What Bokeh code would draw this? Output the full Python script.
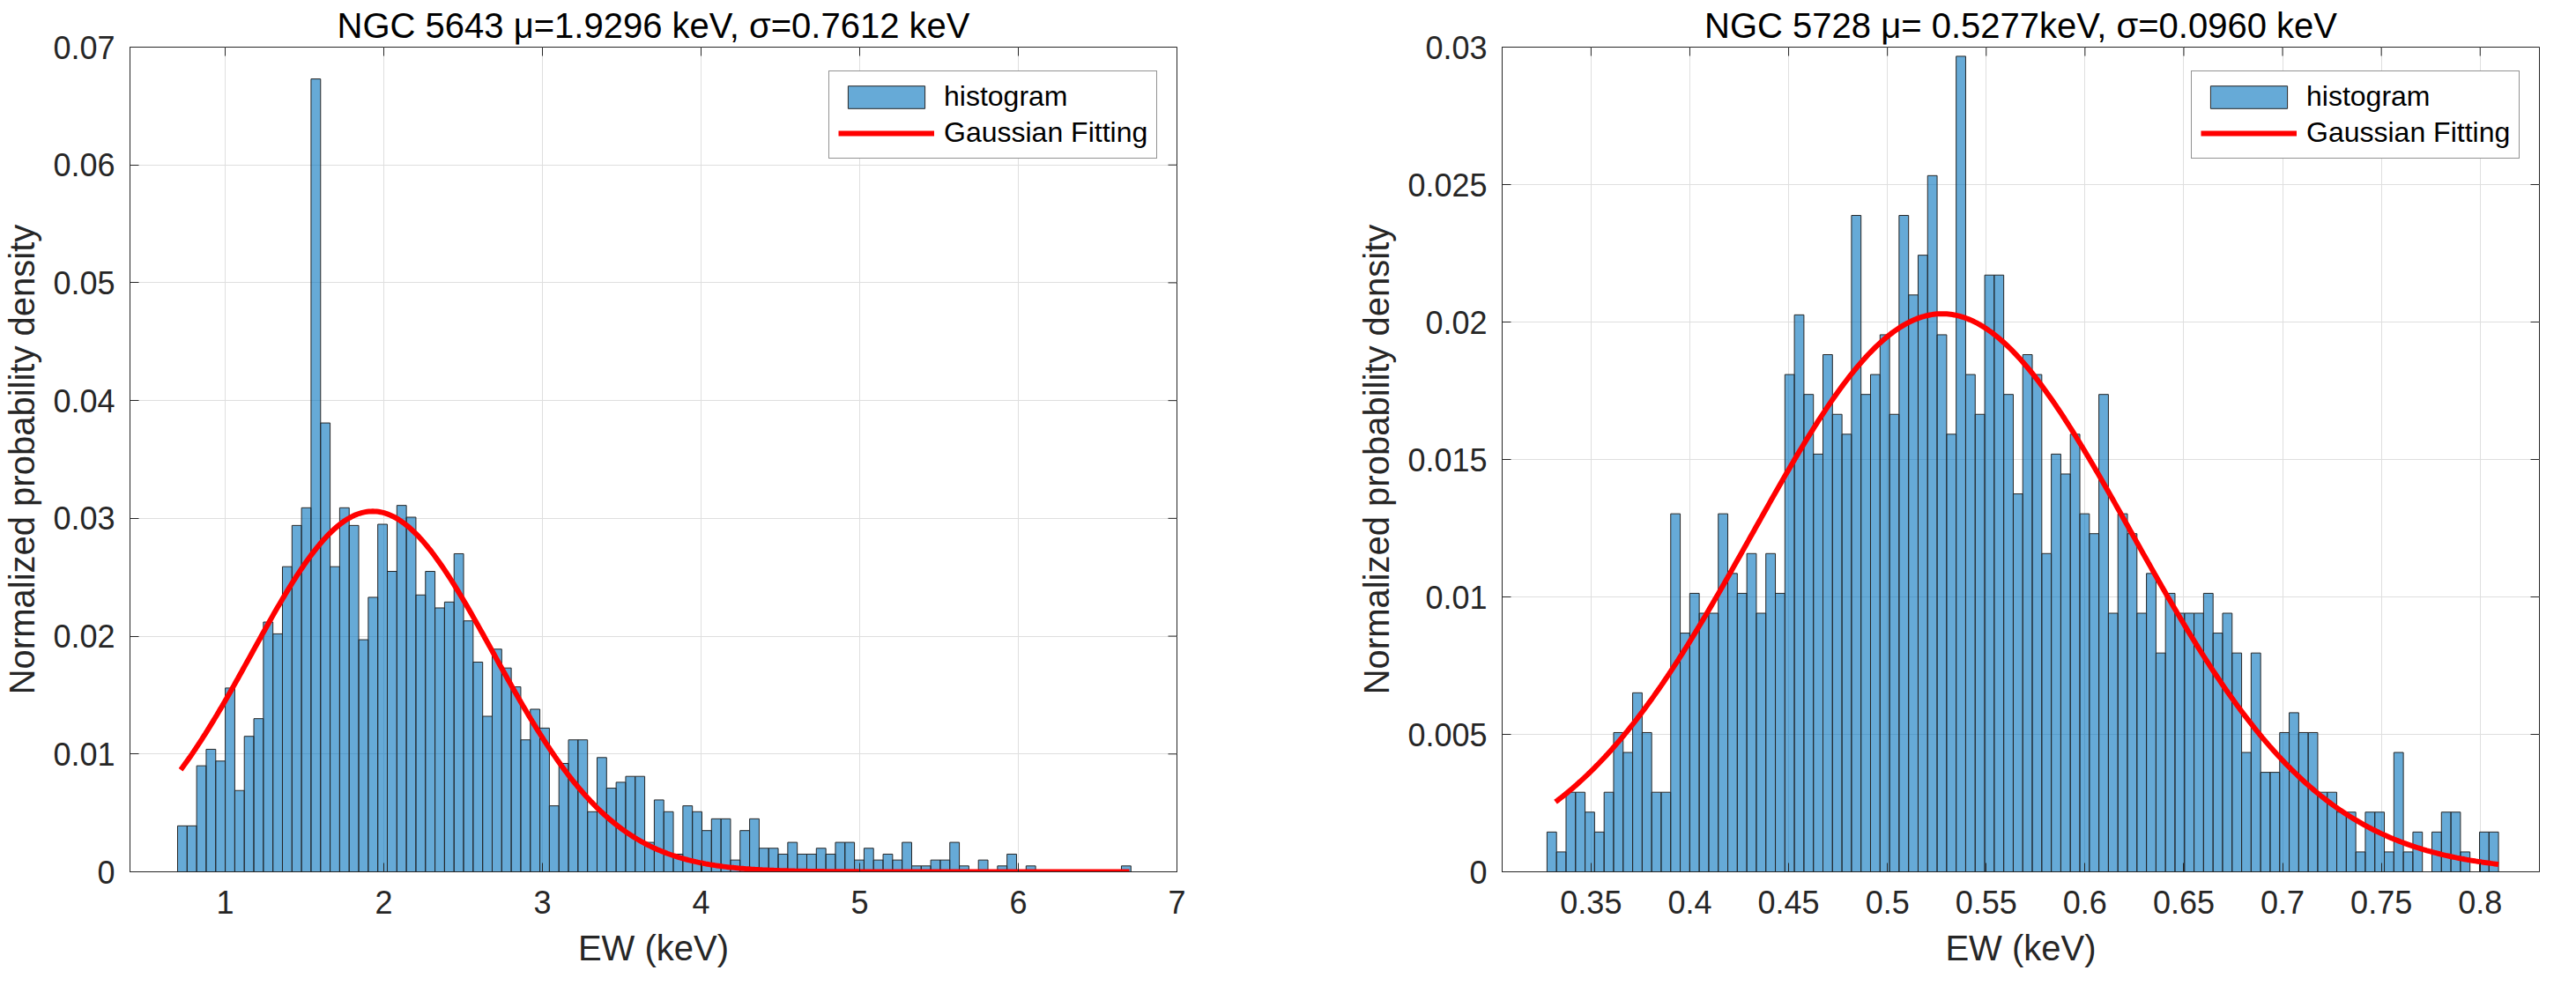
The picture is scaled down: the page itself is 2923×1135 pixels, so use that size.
import numpy as np
from bokeh.plotting import figure
from bokeh.models import FixedTicker, Range1d, Legend, LegendItem, CustomJSTickFormatter
from bokeh.layouts import row
from bokeh.embed import file_html
from bokeh.resources import INLINE

FONT = "Liberation Sans"

# ---------------- data: left panel (NGC 5643) ----------------
left_title = "NGC 5643 \u03bc=1.9296 keV, \u03c3=0.7612 keV"
left_bin_min, left_bin_max = 0.70, 6.71
left_density = [
    0.0039, 0.0039, 0.0090, 0.0104, 0.0094, 0.0156, 0.0069, 0.0115, 0.0130, 0.0212,
    0.0202, 0.0259, 0.0294, 0.0309, 0.0673, 0.0381, 0.0259, 0.0309, 0.0294, 0.0197,
    0.0233, 0.0295, 0.0255, 0.0311, 0.0301, 0.0235, 0.0255, 0.0224, 0.0229, 0.0270,
    0.0213, 0.0178, 0.0132, 0.0189, 0.0173, 0.0157, 0.0112, 0.0138, 0.0122, 0.0056,
    0.0092, 0.0112, 0.0112, 0.0051, 0.0097, 0.0071, 0.0076, 0.0081, 0.0081, 0.0025,
    0.0061, 0.0051, 0.0015, 0.0056, 0.0051, 0.0035, 0.0045, 0.0045, 0.0010, 0.0035,
    0.0045, 0.0020, 0.0020, 0.0015, 0.0025, 0.0015, 0.0015, 0.0020, 0.0015, 0.0025,
    0.0025, 0.0010, 0.0020, 0.0010, 0.0015, 0.0010, 0.0025, 0.0005, 0.0005, 0.0010,
    0.0010, 0.0025, 0.0005, 0.0000, 0.0010, 0.0000, 0.0005, 0.0015, 0.0000, 0.0005,
    0.0000, 0.0000, 0.0000, 0.0000, 0.0000, 0.0000, 0.0000, 0.0000, 0.0000, 0.0005,
]
left_fit_mu, left_fit_sigma, left_fit_peak = 1.9296, 0.7612, 0.0306
left_fit_from, left_fit_to = 0.72, 6.70
left_xlim = (0.4, 7.0)
left_ylim = (0.0, 0.07)
left_xticks = [1, 2, 3, 4, 5, 6, 7]
left_yticks = [0, 0.01, 0.02, 0.03, 0.04, 0.05, 0.06, 0.07]

# ---------------- data: right panel (NGC 5728) ----------------
right_title = "NGC 5728 \u03bc= 0.5277keV, \u03c3=0.0960 keV"
right_bin_min, right_bin_max = 0.3277, 0.8093
right_counts = [
    2, 1, 4, 4, 3, 2, 4, 7, 6, 9,
    7, 4, 4, 18, 12, 14, 13, 13, 18, 15,
    14, 16, 13, 16, 14, 25, 28, 24, 21, 26,
    23, 22, 33, 24, 25, 27, 23, 33, 29, 31,
    35, 27, 22, 41, 25, 23, 30, 30, 24, 19,
    26, 25, 16, 21, 20, 22, 18, 17, 24, 13,
    18, 17, 13, 15, 11, 14, 13, 13, 13, 14,
    12, 13, 11, 6, 11, 5, 5, 7, 8, 7,
    7, 4, 4, 3, 3, 1, 3, 3, 1, 6,
    1, 2, 0, 2, 3, 3, 1, 0, 2, 2,
]
right_fit_mu, right_fit_sigma, right_fit_peak = 0.5277, 0.0960, 0.0203
right_fit_from, right_fit_to = 0.332, 0.8093
right_xlim = (0.305, 0.83)
right_ylim = (0.0, 0.03)
right_xticks = [0.35, 0.4, 0.45, 0.5, 0.55, 0.6, 0.65, 0.7, 0.75, 0.8]
right_yticks = [0, 0.005, 0.01, 0.015, 0.02, 0.025, 0.03]

x_label = "EW (keV)"
y_label = "Normalized probability density"

# ---------------- styling ----------------
DARK = "#262626"
GRID = "#DFDFDF"
BAR = "#0072BD"
FIG_H = 1115
BORDER_TOP = 53
BORDER_BOTTOM = 126
TICK_LEN = 10  # px, inward ticks


def make_panel(title, bin_min, bin_max, density, mu, sigma, peak, fit_from, fit_to,
               xlim, ylim, xticks, yticks, width, border_left, border_right):
    p = figure(width=width, height=FIG_H, x_range=Range1d(*xlim), y_range=Range1d(*ylim),
               output_backend="svg", toolbar_location=None,
               min_border_left=border_left, min_border_right=border_right,
               min_border_top=BORDER_TOP, min_border_bottom=BORDER_BOTTOM,
               background_fill_color="white", border_fill_color="white")
    xax = p.xaxis[0]
    yax = p.yaxis[0]
    frame_w = width - border_left - border_right
    frame_h = FIG_H - BORDER_TOP - BORDER_BOTTOM

    p.title.text = title
    p.title.text_font = FONT
    p.title.text_font_size = "40px"
    p.title.text_font_style = "normal"
    p.title.text_color = "#000000"
    p.title.align = "center"
    p.title.standoff = 6

    fmt = CustomJSTickFormatter(code="return String(Number(tick.toFixed(4)));")
    xt = FixedTicker(ticks=xticks)
    yt = FixedTicker(ticks=yticks)

    for ax in [xax, yax]:
        ax.axis_line_color = DARK
        ax.axis_line_width = 1
        ax.major_tick_line_color = DARK
        ax.major_tick_in = TICK_LEN
        ax.major_tick_out = 0
        ax.minor_tick_line_color = None
        ax.major_label_text_font = FONT
        ax.major_label_text_color = DARK
        ax.major_label_text_font_size = "36px"
        ax.axis_label_text_font = FONT
        ax.axis_label_text_font_style = "normal"
        ax.axis_label_text_color = DARK
        ax.axis_label_text_font_size = "40px"
        ax.formatter = fmt

    xax.ticker = xt
    yax.ticker = yt
    xax.axis_label = x_label
    yax.axis_label = y_label
    xax.major_label_standoff = 21
    yax.major_label_standoff = 17
    xax.axis_label_standoff = 14
    yax.axis_label_standoff = 10

    p.xgrid.ticker = xt
    p.ygrid.ticker = yt
    p.xgrid.grid_line_color = GRID
    p.ygrid.grid_line_color = GRID
    p.xgrid.grid_line_width = 1
    p.ygrid.grid_line_width = 1
    p.outline_line_color = DARK
    p.outline_line_width = 1

    # inward ticks on the top and right edges of the box
    dy = TICK_LEN * (ylim[1] - ylim[0]) / frame_h
    dx = TICK_LEN * (xlim[1] - xlim[0]) / frame_w
    p.segment(x0=xticks, x1=xticks, y0=[ylim[1]] * len(xticks), y1=[ylim[1] - dy] * len(xticks),
              line_color=DARK, line_width=1)
    p.segment(x0=[xlim[1]] * len(yticks), x1=[xlim[1] - dx] * len(yticks), y0=yticks, y1=yticks,
              line_color=DARK, line_width=1)

    n = len(density)
    edges = np.linspace(bin_min, bin_max, n + 1)
    bars = p.quad(left=edges[:-1], right=edges[1:], bottom=0, top=density,
                  fill_color=BAR, fill_alpha=0.6, line_color=DARK, line_width=1)

    xs = np.linspace(fit_from, fit_to, 500)
    ys = peak * np.exp(-(xs - mu) ** 2 / (2 * sigma ** 2))
    curve = p.line(xs, ys, line_color="#FF0000", line_width=6)

    leg_w, leg_h = 378, 98
    legend = Legend(items=[LegendItem(label="histogram", renderers=[bars]),
                           LegendItem(label="Gaussian Fitting", renderers=[curve])],
                    location=(frame_w - 17 - leg_w, frame_h - 29 - leg_h))
    legend.label_text_font = FONT
    legend.label_text_font_size = "32px"
    legend.label_text_color = "#000000"
    legend.glyph_width = 109
    legend.glyph_height = 32
    legend.label_standoff = 11
    legend.padding = 10
    legend.spacing = 4
    legend.margin = 0
    legend.border_line_color = DARK
    legend.border_line_width = 1
    legend.background_fill_color = "white"
    legend.background_fill_alpha = 1
    p.add_layout(legend)
    return p


p_left = make_panel(left_title, left_bin_min, left_bin_max, left_density,
                    left_fit_mu, left_fit_sigma, left_fit_peak, left_fit_from, left_fit_to,
                    left_xlim, left_ylim, left_xticks, left_yticks, 1480, 147, 145)

right_density = np.array(right_counts, dtype=float) / float(sum(right_counts))
p_right = make_panel(right_title, right_bin_min, right_bin_max, right_density,
                     right_fit_mu, right_fit_sigma, right_fit_peak, right_fit_from, right_fit_to,
                     right_xlim, right_ylim, right_xticks, right_yticks, 1427, 224, 26)

layout = row(p_left, p_right)
open("out.html", "w").write(file_html(layout, INLINE))
